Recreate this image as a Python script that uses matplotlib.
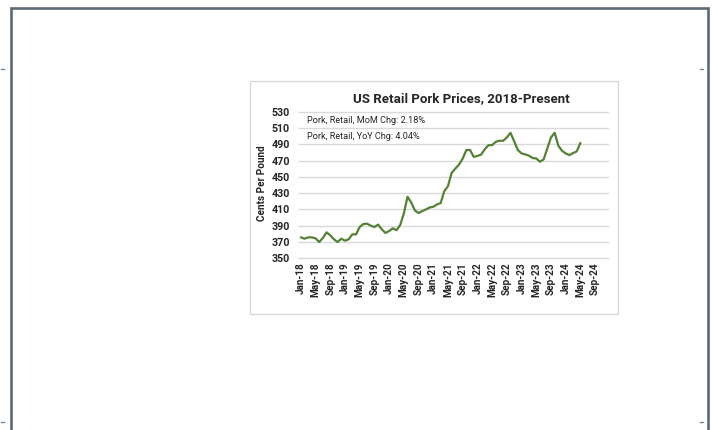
import numpy as np
import pandas as pd
import matplotlib
matplotlib.use('Agg')
import matplotlib.pyplot as plt
import matplotlib.patches as patches

# monthly retail pork price, cents per pound, Jan-2018 .. May-2024
prices = [
    375.7, 374.1, 375.7, 375.7, 374.5, 370.0, 375.0, 381.9, 378.2, 373.3, 370.0, 374.1,
    371.6, 373.3, 379.4, 379.4, 388.4, 392.1, 392.5, 390.1, 388.4, 391.3, 385.6, 381.1,
    383.5, 386.8, 384.5, 390.8, 405.0, 425.5, 418.6, 408.8, 405.5, 408.0, 410.0, 412.4,
    413.3, 416.1, 417.8, 432.5, 438.6, 454.9, 460.2, 465.1, 472.4, 483.0, 483.0, 474.5,
    475.7, 477.3, 483.9, 488.8, 489.0, 493.1, 494.3, 494.3, 498.4, 504.1, 493.5, 482.9,
    478.8, 477.6, 476.0, 473.1, 472.6, 468.6, 471.4, 484.9, 498.4, 504.1, 488.2, 482.0,
    478.8, 476.7, 479.2, 481.2, 491.7,
]
start_month = '2018-01'
n_axis_months = 84          # axis runs through Dec-2024
label_step = 4
y_ticks = list(range(350, 531, 20))
notes = ['Pork, Retail, MoM Chg: 2.18%', 'Pork, Retail, YoY Chg: 4.04%']
title = 'US Retail Pork Prices, 2018-Present'
y_label = 'Cents Per Pound'

W, H = 712, 430
font = ['Roboto', 'DejaVu Sans']
txt = '#262626'
grid_c = '#d9d9d9'
line_c = '#548235'

fig = plt.figure(figsize=(W / 100, H / 100), dpi=100)
fig.patch.set_facecolor('white')

# page frame and chart box, drawn in pixel coordinates
bg = fig.add_axes([0, 0, 1, 1], zorder=0)
bg.set_xlim(0, W)
bg.set_ylim(H, 0)
bg.axis('off')
frame_c = '#5d6873'
bg.plot([11, 11, 708, 708], [H, 8, 8, H], color=frame_c, lw=1.9, solid_joinstyle='miter')
for mx, my in [(2, 69), (701, 69), (2, 422), (701, 422)]:
    bg.plot([mx - 1.5, mx + 1.5], [my, my], color='#7d8790', lw=1)
bg.add_patch(patches.Rectangle((250, 81), 368, 233, facecolor='white',
                               edgecolor=grid_c, linewidth=1))

# plot area
left, right = 299, 608
top, bottom = 111.7, 258.3
ax = fig.add_axes([left / W, 1 - bottom / H, (right - left) / W, (bottom - top) / H], zorder=1)
ax.patch.set_alpha(0)

months = pd.date_range(start_month, periods=n_axis_months, freq='MS')
x = np.arange(len(prices))
ax.plot(x, prices, color=line_c, lw=1.6, solid_capstyle='round', zorder=3)

ax.set_xlim(-0.5, n_axis_months - 0.5)
ax.set_ylim(y_ticks[0], y_ticks[-1])
ax.set_yticks(y_ticks)
tick_pos = np.arange(0, n_axis_months - 3, label_step)
ax.set_xticks(tick_pos)
ax.set_xticklabels([months[i].strftime('%b-%y') for i in tick_pos], rotation=90,
                   family=font, fontsize=7.2, fontweight='bold', color=txt)
for lab in ax.get_yticklabels():
    lab.set_family(font)
    lab.set_fontsize(7.7)
    lab.set_fontweight('bold')
    lab.set_color(txt)
ax.tick_params(axis='both', length=0)
ax.tick_params(axis='y', pad=6.5)
ax.tick_params(axis='x', pad=3)
for s in ax.spines.values():
    s.set_visible(False)
for yv in y_ticks:
    ax.axhline(yv, color=grid_c, lw=1, zorder=1, clip_on=False)

for i, note in enumerate(notes):
    ax.text(0.027, 0.939 - 0.106 * i, note, transform=ax.transAxes, ha='left', va='center',
            family=font, fontsize=6.6, color=txt)

fig.text(461 / W, 1 - 98.3 / H, title, ha='center', va='center', family=font,
         fontsize=9.5, fontweight='bold', color=txt)
fig.text(262 / W, 1 - 183 / H, y_label, ha='center', va='center', rotation=90,
         family=font, fontsize=7.2, fontweight='bold', color=txt)

fig.savefig('out.png', dpi=100)
